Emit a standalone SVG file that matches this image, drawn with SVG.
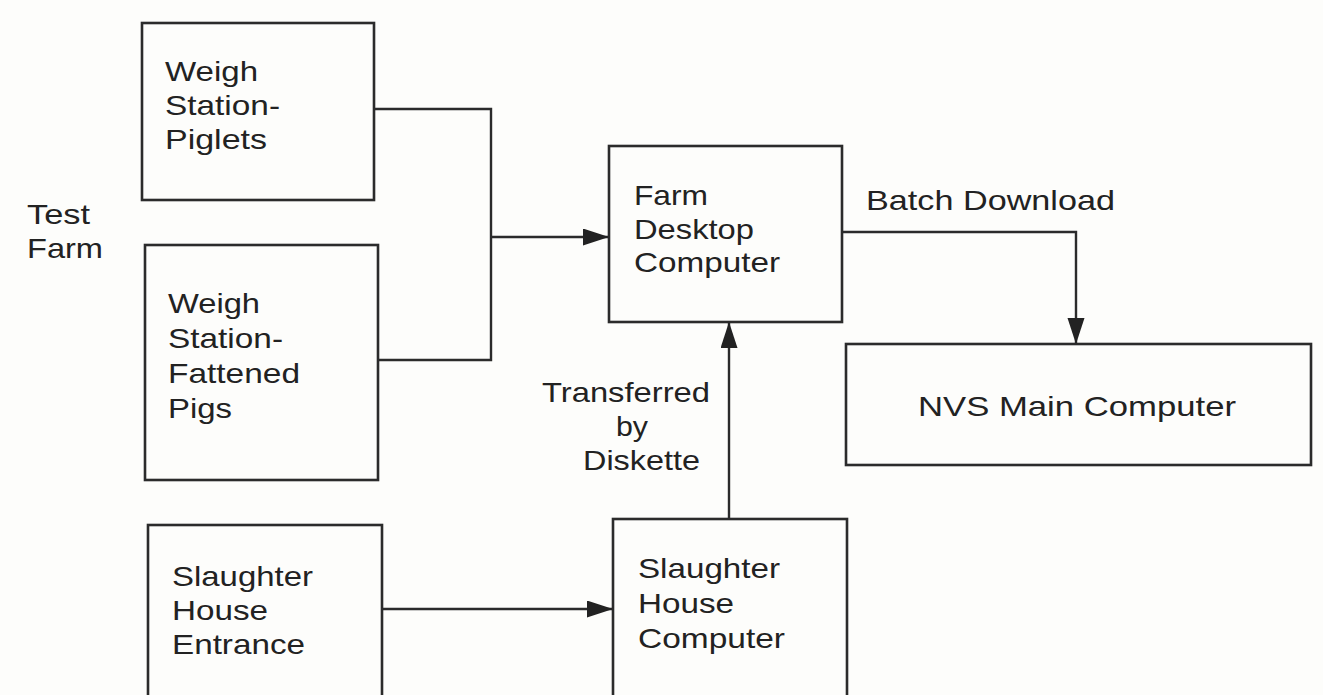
<svg xmlns="http://www.w3.org/2000/svg" width="1323" height="695" viewBox="0 0 1323 695">
<style>
.box{fill:none;stroke:#2b2b2b;stroke-width:2.6}
.ln{fill:none;stroke:#2b2b2b;stroke-width:2.4}
text{font-family:"Liberation Sans",Arial,sans-serif;font-size:28px;fill:#222}
</style>
<defs>
<marker id="ah" markerUnits="userSpaceOnUse" markerWidth="27" markerHeight="18" refX="26" refY="8.5" orient="auto">
<path d="M0,0 L26,8.5 L0,17 Z" fill="#222"/>
</marker>
</defs>
<rect width="1323" height="695" fill="#fdfdfb"/>
<g id="label-test-farm">
<text x="27" y="224" textLength="63" lengthAdjust="spacingAndGlyphs">Test</text>
<text x="27" y="258" textLength="76" lengthAdjust="spacingAndGlyphs">Farm</text>
</g>
<g id="weigh-piglets">
<rect class="box" x="142" y="23" width="232" height="177"/>
<text x="165" y="81" textLength="93" lengthAdjust="spacingAndGlyphs">Weigh</text>
<text x="165" y="115" textLength="115" lengthAdjust="spacingAndGlyphs">Station-</text>
<text x="165" y="149" textLength="102" lengthAdjust="spacingAndGlyphs">Piglets</text>
</g>
<g id="weigh-fattened">
<rect class="box" x="145" y="245" width="233" height="235"/>
<text x="168" y="313" textLength="92" lengthAdjust="spacingAndGlyphs">Weigh</text>
<text x="168" y="348" textLength="115" lengthAdjust="spacingAndGlyphs">Station-</text>
<text x="168" y="383" textLength="132" lengthAdjust="spacingAndGlyphs">Fattened</text>
<text x="168" y="418" textLength="64" lengthAdjust="spacingAndGlyphs">Pigs</text>
</g>
<g id="slaughter-entrance">
<rect class="box" x="148" y="525" width="234" height="190"/>
<text x="172" y="586" textLength="141" lengthAdjust="spacingAndGlyphs">Slaughter</text>
<text x="172" y="620" textLength="96" lengthAdjust="spacingAndGlyphs">House</text>
<text x="172" y="654" textLength="133" lengthAdjust="spacingAndGlyphs">Entrance</text>
</g>
<g id="farm-desktop">
<rect class="box" x="609" y="146" width="233" height="176"/>
<text x="634" y="205" textLength="74" lengthAdjust="spacingAndGlyphs">Farm</text>
<text x="634" y="239" textLength="120" lengthAdjust="spacingAndGlyphs">Desktop</text>
<text x="634" y="272" textLength="146" lengthAdjust="spacingAndGlyphs">Computer</text>
</g>
<g id="nvs-main">
<rect class="box" x="846" y="344" width="465" height="121"/>
<text x="918" y="416" textLength="318" lengthAdjust="spacingAndGlyphs">NVS Main Computer</text>
</g>
<g id="slaughter-computer">
<rect class="box" x="613" y="519" width="234" height="196"/>
<text x="638" y="578" textLength="142" lengthAdjust="spacingAndGlyphs">Slaughter</text>
<text x="638" y="613" textLength="96" lengthAdjust="spacingAndGlyphs">House</text>
<text x="638" y="648" textLength="147" lengthAdjust="spacingAndGlyphs">Computer</text>
</g>
<g id="connectors">
<path class="ln" d="M374,109 H491 V360 H378"/>
<path class="ln" d="M491,237 H609" marker-end="url(#ah)"/>
<path class="ln" d="M842,232 H1076 V344" marker-end="url(#ah)"/>
<path class="ln" d="M729,519 V322" marker-end="url(#ah)"/>
<path class="ln" d="M382,609 H613" marker-end="url(#ah)"/>
</g>
<g id="connector-labels">
<text x="866" y="210" textLength="249" lengthAdjust="spacingAndGlyphs">Batch Download</text>
<text x="542" y="402" textLength="168" lengthAdjust="spacingAndGlyphs">Transferred</text>
<text x="616" y="436" textLength="32" lengthAdjust="spacingAndGlyphs">by</text>
<text x="583" y="470" textLength="117" lengthAdjust="spacingAndGlyphs">Diskette</text>
</g>
</svg>
